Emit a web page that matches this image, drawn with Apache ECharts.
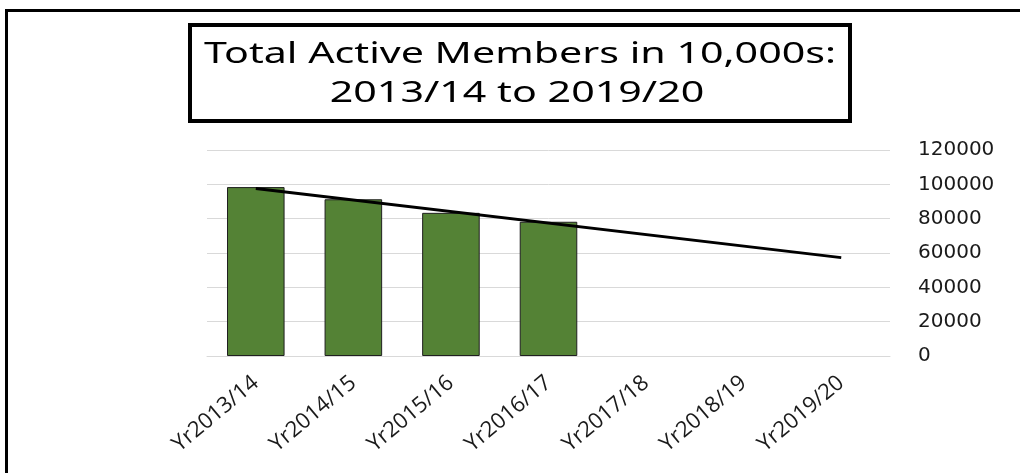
<!DOCTYPE html>
<html>
<head>
<meta charset="utf-8">
<script src="https://cdn.jsdelivr.net/npm/echarts@6/dist/echarts.min.js"></script>
<style>
  html, body { margin: 0; padding: 0; background: #fff; }
  #chart { width: 1020px; height: 473px; }
</style>
</head>
<body>
<div id="chart"></div>
<script>
// categories and values
var years = ['Yr2013/14', 'Yr2014/15', 'Yr2015/16', 'Yr2016/17', 'Yr2017/18', 'Yr2018/19', 'Yr2019/20'];
var members = [98400, 91300, 83400, 78200, null, null, null];
// linear trend line, start and end as drawn
var trendYears = ['Yr2013/14', 'Yr2019/20'];
var trendValues = [97600, 57300];
var yTicks = [0, 20000, 40000, 60000, 80000, 100000, 120000];

var titleLines = ['Total Active Members in 10,000s:', '2013/14 to 2019/20'];

var chart = echarts.init(document.getElementById('chart'));

var trendData = [];
for (var i = 0; i < trendYears.length; i++) {
    trendData.push([trendYears[i], trendValues[i]]);
}

chart.setOption({
    backgroundColor: '#ffffff',
    animation: false,
    grid: {
        left: 207,
        right: 130,
        top: 150,
        bottom: 117
    },
    xAxis: {
        type: 'category',
        data: years,
        axisLine: { lineStyle: { color: '#d9d9d9', width: 1 } },
        axisTick: { show: false },
        axisLabel: {
            rotate: 40,
            margin: 24,
            interval: 0,
            color: '#1a1a1a',
            fontFamily: 'Open Sans',
            fontSize: 22
        }
    },
    yAxis: {
        type: 'value',
        position: 'right',
        min: yTicks[0],
        max: yTicks[yTicks.length - 1],
        interval: 20000,
        axisLine: { show: false },
        axisTick: { show: false },
        splitLine: { lineStyle: { color: '#d9d9d9', width: 1 } },
        axisLabel: {
            margin: 28,
            color: '#1a1a1a',
            fontFamily: 'DejaVu Sans',
            fontSize: 20,
            align: 'left',
            formatter: function (v) { return String(v); }
        }
    },
    series: [
        {
            name: 'Members',
            type: 'bar',
            data: members,
            barCategoryGap: '41%',
            itemStyle: {
                color: '#548235',
                borderColor: '#1f1f1f',
                borderWidth: 1
            }
        },
        {
            name: 'Trend',
            type: 'line',
            data: trendData,
            symbol: 'none',
            lineStyle: { color: '#000', width: 3 },
            z: 5
        }
    ],
    graphic: [
        {
            type: 'polyline',
            shape: { points: [[6.5, 480], [6.5, 10.5], [1030, 10.5]] },
            style: { fill: null, stroke: '#000', lineWidth: 3 },
            silent: true
        },
        {
            type: 'rect',
            shape: { x: 190, y: 25, width: 660, height: 96 },
            style: { fill: '#fff', stroke: '#000', lineWidth: 4 }
        },
        {
            type: 'text',
            x: 520,
            y: 55,
            scaleX: 1.42,
            style: {
                text: titleLines[0],
                fill: '#000',
                font: '29px "Noto Sans"',
                align: 'center',
                verticalAlign: 'middle'
            }
        },
        {
            type: 'text',
            x: 517,
            y: 94,
            scaleX: 1.42,
            style: {
                text: titleLines[1],
                fill: '#000',
                font: '29px "Noto Sans"',
                align: 'center',
                verticalAlign: 'middle'
            }
        }
    ]
});
</script>
</body>
</html>
